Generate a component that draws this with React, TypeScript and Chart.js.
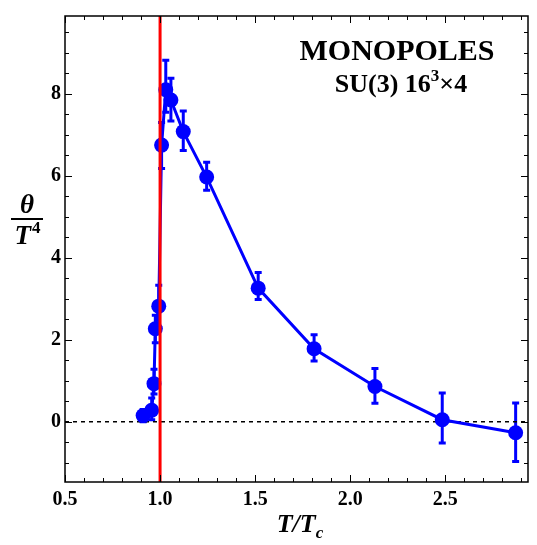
import React, { useEffect, useRef } from "react";
import { Chart, registerables } from "chart.js";

Chart.register(...registerables);

const T_OVER_TC = [0.911, 0.956, 0.968, 0.975, 0.993, 1.008, 1.03, 1.057, 1.122, 1.245, 1.516, 1.81, 2.13, 2.484, 2.87];
const THETA = [0.15, 0.28, 0.93, 2.27, 2.82, 6.75, 8.1, 7.85, 7.08, 5.97, 3.26, 1.78, 0.86, 0.05, -0.27];
const ERR_LOW = [0.0, 0.05, 0.68, 1.93, 2.3, 6.18, 7.55, 7.34, 6.62, 5.65, 2.98, 1.48, 0.45, -0.52, -0.97];
const ERR_HIGH = [0.3, 0.58, 1.28, 2.6, 3.33, 7.3, 8.82, 8.38, 7.58, 6.33, 3.64, 2.12, 1.3, 0.7, 0.46];

const X_MIN = 0.5;
const X_MAX = 2.935;
const Y_MIN = -1.47;
const Y_MAX = 9.9;
const X_TICKS = [0.5, 1.0, 1.5, 2.0, 2.5];
const Y_TICKS = [0, 2, 4, 6, 8];
const X_MINOR_STEP = 0.1;
const Y_MINOR_STEP = 0.5;
const TC_LINE = 1.0;

const BLUE = "rgb(0,0,255)";
const RED = "rgb(255,0,0)";
const SERIF = "'Liberation Serif', 'DejaVu Serif', serif";

export default function App() {
  const ref = useRef<HTMLCanvasElement | null>(null);

  useEffect(() => {
    document.body.style.margin = "0";
    const canvas = ref.current;
    if (!canvas) return;

    const errorBars = {
      id: "errorBars",
      beforeDatasetsDraw(chart: any) {
        const ctx = chart.ctx;
        const xs = chart.scales.x;
        const ys = chart.scales.y;
        ctx.save();
        ctx.strokeStyle = BLUE;
        ctx.lineWidth = 3;
        for (let i = 0; i < T_OVER_TC.length; i++) {
          const px = xs.getPixelForValue(T_OVER_TC[i]);
          const lo = ys.getPixelForValue(ERR_LOW[i]);
          const hi = ys.getPixelForValue(ERR_HIGH[i]);
          ctx.beginPath();
          ctx.moveTo(px, lo);
          ctx.lineTo(px, hi);
          ctx.moveTo(px - 3.5, lo);
          ctx.lineTo(px + 3.5, lo);
          ctx.moveTo(px - 3.5, hi);
          ctx.lineTo(px + 3.5, hi);
          ctx.stroke();
        }
        ctx.restore();
      },
    };

    const frame = {
      id: "frame",
      afterDraw(chart: any) {
        const ctx = chart.ctx;
        const a = chart.chartArea;
        const xs = chart.scales.x;
        const ys = chart.scales.y;
        ctx.save();
        ctx.strokeStyle = "#000";
        ctx.lineWidth = 1.5;
        ctx.strokeRect(a.left, a.top, a.right - a.left, a.bottom - a.top);
        ctx.lineWidth = 1;
        ctx.beginPath();
        for (let k = 0; ; k++) {
          const v = X_MIN + k * X_MINOR_STEP;
          if (v > X_MAX + 1e-9) break;
          const major = X_TICKS.some((t) => Math.abs(t - v) < 1e-6);
          const len = major ? 7 : 4;
          const px = Math.round(xs.getPixelForValue(v)) + 0.5;
          ctx.moveTo(px, a.bottom);
          ctx.lineTo(px, a.bottom - len);
          ctx.moveTo(px, a.top);
          ctx.lineTo(px, a.top + len);
        }
        const startY = Math.ceil(Y_MIN / Y_MINOR_STEP) * Y_MINOR_STEP;
        for (let k = 0; ; k++) {
          const v = startY + k * Y_MINOR_STEP;
          if (v > Y_MAX + 1e-9) break;
          const major = Y_TICKS.some((t) => Math.abs(t - v) < 1e-6);
          const len = major ? 7 : 4;
          const py = Math.round(ys.getPixelForValue(v)) + 0.5;
          ctx.moveTo(a.left, py);
          ctx.lineTo(a.left + len, py);
          ctx.moveTo(a.right, py);
          ctx.lineTo(a.right - len, py);
        }
        ctx.stroke();

        ctx.fillStyle = "#000";
        ctx.textBaseline = "alphabetic";
        ctx.textAlign = "center";
        ctx.font = `bold 30px ${SERIF}`;
        ctx.fillText("MONOPOLES", 397, 60);

        const f1 = `bold 26px ${SERIF}`;
        const f2 = `bold 17px ${SERIF}`;
        ctx.font = f1;
        const p1 = "SU(3) 16";
        const p3 = "\u00d74";
        const w1 = ctx.measureText(p1).width;
        const w3 = ctx.measureText(p3).width;
        ctx.font = f2;
        const w2 = ctx.measureText("3").width;
        const total = w1 + w2 + w3;
        const x0 = 401 - total / 2;
        ctx.textAlign = "left";
        ctx.font = f1;
        ctx.fillText(p1, x0, 92);
        ctx.font = f2;
        ctx.fillText("3", x0 + w1, 81);
        ctx.font = f1;
        ctx.fillText(p3, x0 + w1 + w2, 92);

        ctx.textAlign = "center";
        ctx.font = `italic bold 27px ${SERIF}`;
        ctx.fillText("\u03b8", 27, 213);
        ctx.fillRect(11, 218, 32, 2);
        const wT = ctx.measureText("T").width;
        ctx.font = `bold 17px ${SERIF}`;
        const w4 = ctx.measureText("4").width;
        const tx = 27 - (wT + w4) / 2;
        ctx.textAlign = "left";
        ctx.font = `italic bold 27px ${SERIF}`;
        ctx.fillText("T", tx, 244);
        ctx.font = `bold 17px ${SERIF}`;
        ctx.fillText("4", tx + wT + 1, 233);

        ctx.font = `italic bold 26px ${SERIF}`;
        const s1 = "T/T";
        const ws1 = ctx.measureText(s1).width;
        ctx.font = `italic bold 17px ${SERIF}`;
        const wc = ctx.measureText("c").width;
        const sx = 300 - (ws1 + wc) / 2;
        ctx.font = `italic bold 26px ${SERIF}`;
        ctx.fillText(s1, sx, 532);
        ctx.font = `italic bold 17px ${SERIF}`;
        ctx.fillText("c", sx + ws1, 538);
        ctx.restore();
      },
    };

    const points = T_OVER_TC.map((x, i) => ({ x, y: THETA[i] }));

    const chart = new Chart(canvas, {
      type: "scatter",
      data: {
        datasets: [
          {
            label: "Tc",
            data: [
              { x: TC_LINE, y: Y_MIN },
              { x: TC_LINE, y: Y_MAX },
            ],
            showLine: true,
            borderColor: RED,
            borderWidth: 3,
            pointRadius: 0,
            order: 0,
          },
          {
            label: "monopoles",
            data: points,
            showLine: true,
            borderColor: BLUE,
            backgroundColor: BLUE,
            borderWidth: 3,
            pointRadius: 7.5,
            pointBorderWidth: 0,
            order: 1,
          },
          {
            label: "zero",
            data: [
              { x: X_MIN, y: 0 },
              { x: X_MAX, y: 0 },
            ],
            showLine: true,
            borderColor: "#000",
            borderWidth: 1.5,
            borderDash: [4, 4],
            pointRadius: 0,
            order: 2,
          },
        ],
      },
      options: {
        animation: false,
        responsive: false,
        maintainAspectRatio: false,
        layout: { padding: { left: 0, right: 9, top: 11, bottom: 23 } },
        plugins: {
          legend: { display: false },
          tooltip: { enabled: false },
        },
        scales: {
          x: {
            type: "linear",
            min: X_MIN,
            max: X_MAX,
            grid: { display: false, drawTicks: false },
            border: { display: false },
            afterBuildTicks: (s: any) => {
              s.ticks = X_TICKS.map((v) => ({ value: v }));
            },
            afterFit: (s: any) => {
              s.height = 40;
            },
            ticks: {
              padding: 6,
              color: "#000",
              font: { family: SERIF, size: 20, weight: "bold" },
              callback: (v: any) => Number(v).toFixed(1),
              maxRotation: 0,
            },
          },
          y: {
            type: "linear",
            min: Y_MIN,
            max: Y_MAX,
            grid: { display: false, drawTicks: false },
            border: { display: false },
            afterBuildTicks: (s: any) => {
              s.ticks = Y_TICKS.map((v) => ({ value: v }));
            },
            afterFit: (s: any) => {
              s.width = 65;
            },
            ticks: {
              padding: 4,
              color: "#000",
              font: { family: SERIF, size: 20, weight: "bold" },
              callback: (v: any) => String(v),
            },
          },
        },
      },
      plugins: [errorBars, frame],
    });

    return () => chart.destroy();
  }, []);

  return (
    <div style={{ width: 537, height: 545 }}>
      <canvas ref={ref} width={537} height={545} style={{ display: "block" }} />
    </div>
  );
}
